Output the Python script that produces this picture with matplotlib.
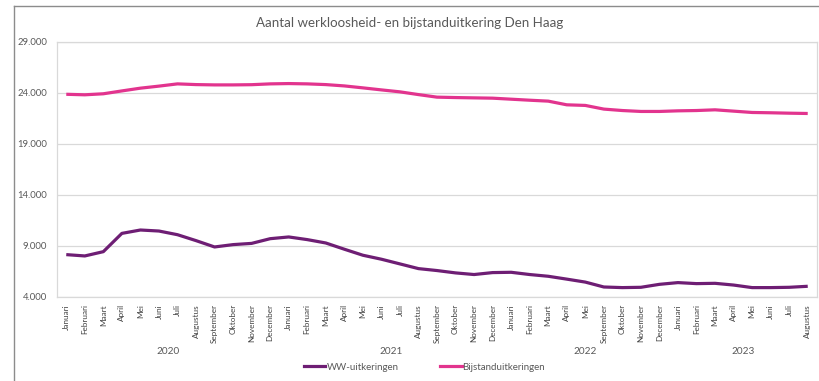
import matplotlib
matplotlib.use("Agg")
import matplotlib.pyplot as plt
from matplotlib.lines import Line2D
from matplotlib.ticker import FuncFormatter
from matplotlib.transforms import blended_transform_factory

# Maandlabels per jaar (2022 mist juni t/m augustus in de bron)
maanden_2020 = ["Januari", "Februari", "Maart", "April", "Mei", "Juni", "Juli",
                "Augustus", "September", "Oktober", "November", "December"]
maanden_2021 = ["Januari", "Februari", "Maart", "April", "Mei", "Juni", "Juli",
                "Augustus", "September", "Oktober", "November", "December"]
maanden_2022 = ["Januari", "Februari", "Maart", "April", "Mei",
                "September", "Oktober", "November", "December"]
maanden_2023 = ["Januari", "Februari", "Maart", "April", "Mei", "Juni", "Juli",
                "Augustus"]
jaren = ["2020", "2021", "2022", "2023"]

ww_uitkeringen = [
    8150, 8020, 8440, 10230, 10560, 10460, 10100, 9520, 8900, 9130, 9250, 9710,
    9880, 9620, 9290, 8680, 8090, 7700, 7240, 6780, 6590, 6360, 6200, 6390,
    6420, 6200, 6030, 5750, 5460, 4980, 4920, 4950, 5240,
    5410, 5310, 5340, 5170, 4920, 4920, 4950, 5050,
]
bijstanduitkeringen = [
    23850, 23800, 23900, 24180, 24450, 24650, 24870, 24800, 24770, 24770, 24790, 24870,
    24900, 24870, 24800, 24670, 24480, 24280, 24090, 23820, 23570, 23530, 23500, 23470,
    23370, 23270, 23180, 22820, 22760, 22400, 22260, 22170, 22170,
    22230, 22260, 22330, 22200, 22070, 22040, 22000, 21970,
]
y_ticks = [4000, 9000, 14000, 19000, 24000, 29000]

maanden_per_jaar = [maanden_2020, maanden_2021, maanden_2022, maanden_2023]
maandlabels = [m for groep in maanden_per_jaar for m in groep]
x = list(range(len(maandlabels)))

KLEUR_WW = "#6E1E74"
KLEUR_BIJSTAND = "#E2348E"
TEKST = "#595959"
RASTER = "#D9D9D9"
sans = ["Lato", "DejaVu Sans"]

fig = plt.figure(figsize=(8.19, 3.81), dpi=100)
ax = fig.add_axes([57 / 819, 1 - 297 / 381, 760 / 819, (297 - 41.7) / 381])

ax.plot(x, ww_uitkeringen, color=KLEUR_WW, lw=2.3, solid_capstyle="butt",
        label="WW-uitkeringen", zorder=3)
ax.plot(x, bijstanduitkeringen, color=KLEUR_BIJSTAND, lw=2.3, solid_capstyle="butt",
        label="Bijstanduitkeringen", zorder=3)

ax.set_ylim(y_ticks[0], y_ticks[-1])
ax.set_yticks(y_ticks)
ax.yaxis.set_major_formatter(FuncFormatter(lambda v, _: f"{v:,.0f}".replace(",", ".")))
ax.set_xlim(-0.5, len(x) - 0.5)
ax.set_xticks(x)
ax.set_xticklabels(maandlabels, rotation=90, fontsize=5.9, color="#404040",
                   family=sans, va="top")
ax.tick_params(axis="both", length=0)
ax.tick_params(axis="x", pad=5)
ax.tick_params(axis="y", pad=7, labelsize=6.8, labelcolor=TEKST)
for lbl in ax.get_yticklabels():
    lbl.set_family(sans)

ax.grid(axis="y", color=RASTER, lw=0.9)
ax.set_axisbelow(True)
for s in ax.spines.values():
    s.set_color(RASTER)
    s.set_linewidth(0.9)

# Jaarlabels onder de maandgroepen
trans = blended_transform_factory(ax.transData, ax.transAxes)
start = 0
for jaar, groep in zip(jaren, maanden_per_jaar):
    midden = start + (len(groep) - 1) / 2
    ax.text(midden, -0.215, jaar, transform=trans, ha="center", va="center",
            fontsize=7.2, color=TEKST, family=sans)
    start += len(groep)

fig.suptitle("Aantal werkloosheid- en bijstanduitkering Den Haag", x=0.5,
             y=1 - 23 / 381, va="center", fontsize=9.6, color=TEKST, family=sans)

handles = [Line2D([], [], color=KLEUR_WW, lw=2.3),
           Line2D([], [], color=KLEUR_BIJSTAND, lw=2.3)]
fig.legend(handles, ["WW-uitkeringen", "Bijstanduitkeringen"], ncol=2,
           loc="center", bbox_to_anchor=(0.5185, 1 - 367 / 381), frameon=False,
           handlelength=2.2, handletextpad=0.1, columnspacing=4.3,
           prop={"family": sans, "size": 7}, labelcolor=TEKST)

# Kaderrand van de grafiek
fig.add_artist(Line2D([14 / 819, 14 / 819], [0, 1 - 6 / 381], transform=fig.transFigure,
                      color="#8C8C8C", lw=1))
fig.add_artist(Line2D([14 / 819, 1], [1 - 6 / 381, 1 - 6 / 381], transform=fig.transFigure,
                      color="#8C8C8C", lw=1))

fig.savefig("out.png", dpi=100, facecolor="white")
